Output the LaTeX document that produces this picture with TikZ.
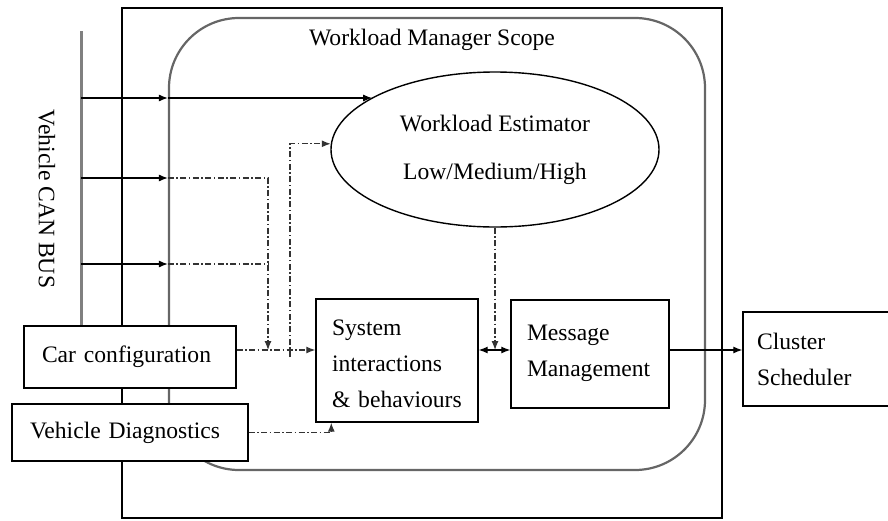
\documentclass[tikz,border=0pt]{standalone}
\usepackage{fontspec}
\setmainfont{Liberation Serif}
\usetikzlibrary{
    arrows.meta,
    positioning,
    shapes.geometric
}

\begin{document}
\begin{tikzpicture}[
    x=0.5pt, y=-0.5pt,
    font=\fontsize{11.8}{18}\selectfont,
    >={Latex[length=4.5pt,width=3.5pt]},
    box/.style={rectangle, draw, line width=0.7pt, fill=white, inner sep=0pt},
    textbox/.style={box, align=left, inner xsep=8pt},
    arrow/.style={->, line width=0.6pt},
    dashdot/.style={arrow, draw=black!80, dash pattern=on 3pt off 1.25pt on 0.75pt off 1.25pt},
    bus/.style={draw=gray, line width=1.5pt}
]
\useasboundingbox (0,0) rectangle (888,520);
\clip (0,0) rectangle (888,520);

% outer frame and the manager scope
\draw[line width=0.7pt] (122,8) rectangle (722,518);
\node[draw=black!60, line width=1.1pt, rounded corners=35pt,
      minimum width=268pt, minimum height=226pt] (scope) at (437,244) {};
\node (scopename) at (432,40) {Workload Manager Scope};

% CAN bus
\coordinate (bustop) at (81,31);
\coordinate (busend) at (81,326);
\draw[bus] (bustop) -- (busend);
\node[rotate=-90] (busname) at (47,199) {Vehicle CAN BUS};

% blocks
\node[ellipse, draw, line width=0.7pt, minimum width=164pt, minimum height=77.5pt,
      inner sep=0pt, align=center, font=\fontsize{11.8}{24}\selectfont]
      (estimator) at (495,149.5) {Workload Estimator\\Low/Medium/High};
\node[textbox, text width=65pt, minimum height=61.5pt, yshift=0pt] (sysint) at (397,360.5)
      {\rule{0pt}{11pt}System\\interactions\\\& behaviours};
\node[textbox, text width=63pt, minimum height=54pt] (msgmgmt) at (590,354)
      {Message\\Management\\[-15pt]\mbox{}};
\node[textbox, inner xsep=7pt, text width=66pt, minimum height=47pt] (cluster) at (823,359)
      {Cluster\\Scheduler};
\node[textbox, inner xsep=9pt, text width=88pt, minimum height=31pt] (carcfg) at (130,357)
      {Car configuration};
\node[textbox, inner xsep=9pt, text width=100pt, minimum height=28.5pt] (diag) at (130,432.5)
      {Vehicle Diagnostics};

% taps on the bus
\foreach \tap/\ty in {tapA/98, tapB/178, tapC/264}
    \coordinate (\tap) at (81,\ty);
\foreach \tap in {tapA, tapB, tapC}
    \draw[arrow] (\tap) -- (\tap -| scope.west);
\draw[arrow] (tapA -| scope.west) -- (tapA -| estimator.157);

% bus signals joining the configuration line
\coordinate (merge) at (268,350);
\draw[dashdot] (tapB -| scope.west) -| (merge);
\draw[dashdot, -] (tapC -| scope.west) -- (tapC -| merge);

% branch up to the estimator
\coordinate (branch) at (290,357);
\draw[dashdot] (branch) |- (estimator.178);

% inputs of the system block
\coordinate (cfgout) at ([yshift=3.5pt]carcfg.east);
\draw[dashdot] (cfgout) -- (cfgout -| sysint.west);
\draw[dashdot] (diag.east) -| ([xshift=8pt]sysint.south west);

% system <-> message management, estimator level
\coordinate (sysout) at ([yshift=5.25pt]sysint.east);
\draw[arrow, <->] (sysout) -- (sysout -| msgmgmt.west);
\draw[dashdot] (estimator.south) -- (estimator.south |- sysout);

% to the scheduler
\coordinate (msgout) at ([yshift=2pt]msgmgmt.east);
\draw[arrow] (msgout) -- (msgout -| cluster.west);
\end{tikzpicture}
\end{document}
